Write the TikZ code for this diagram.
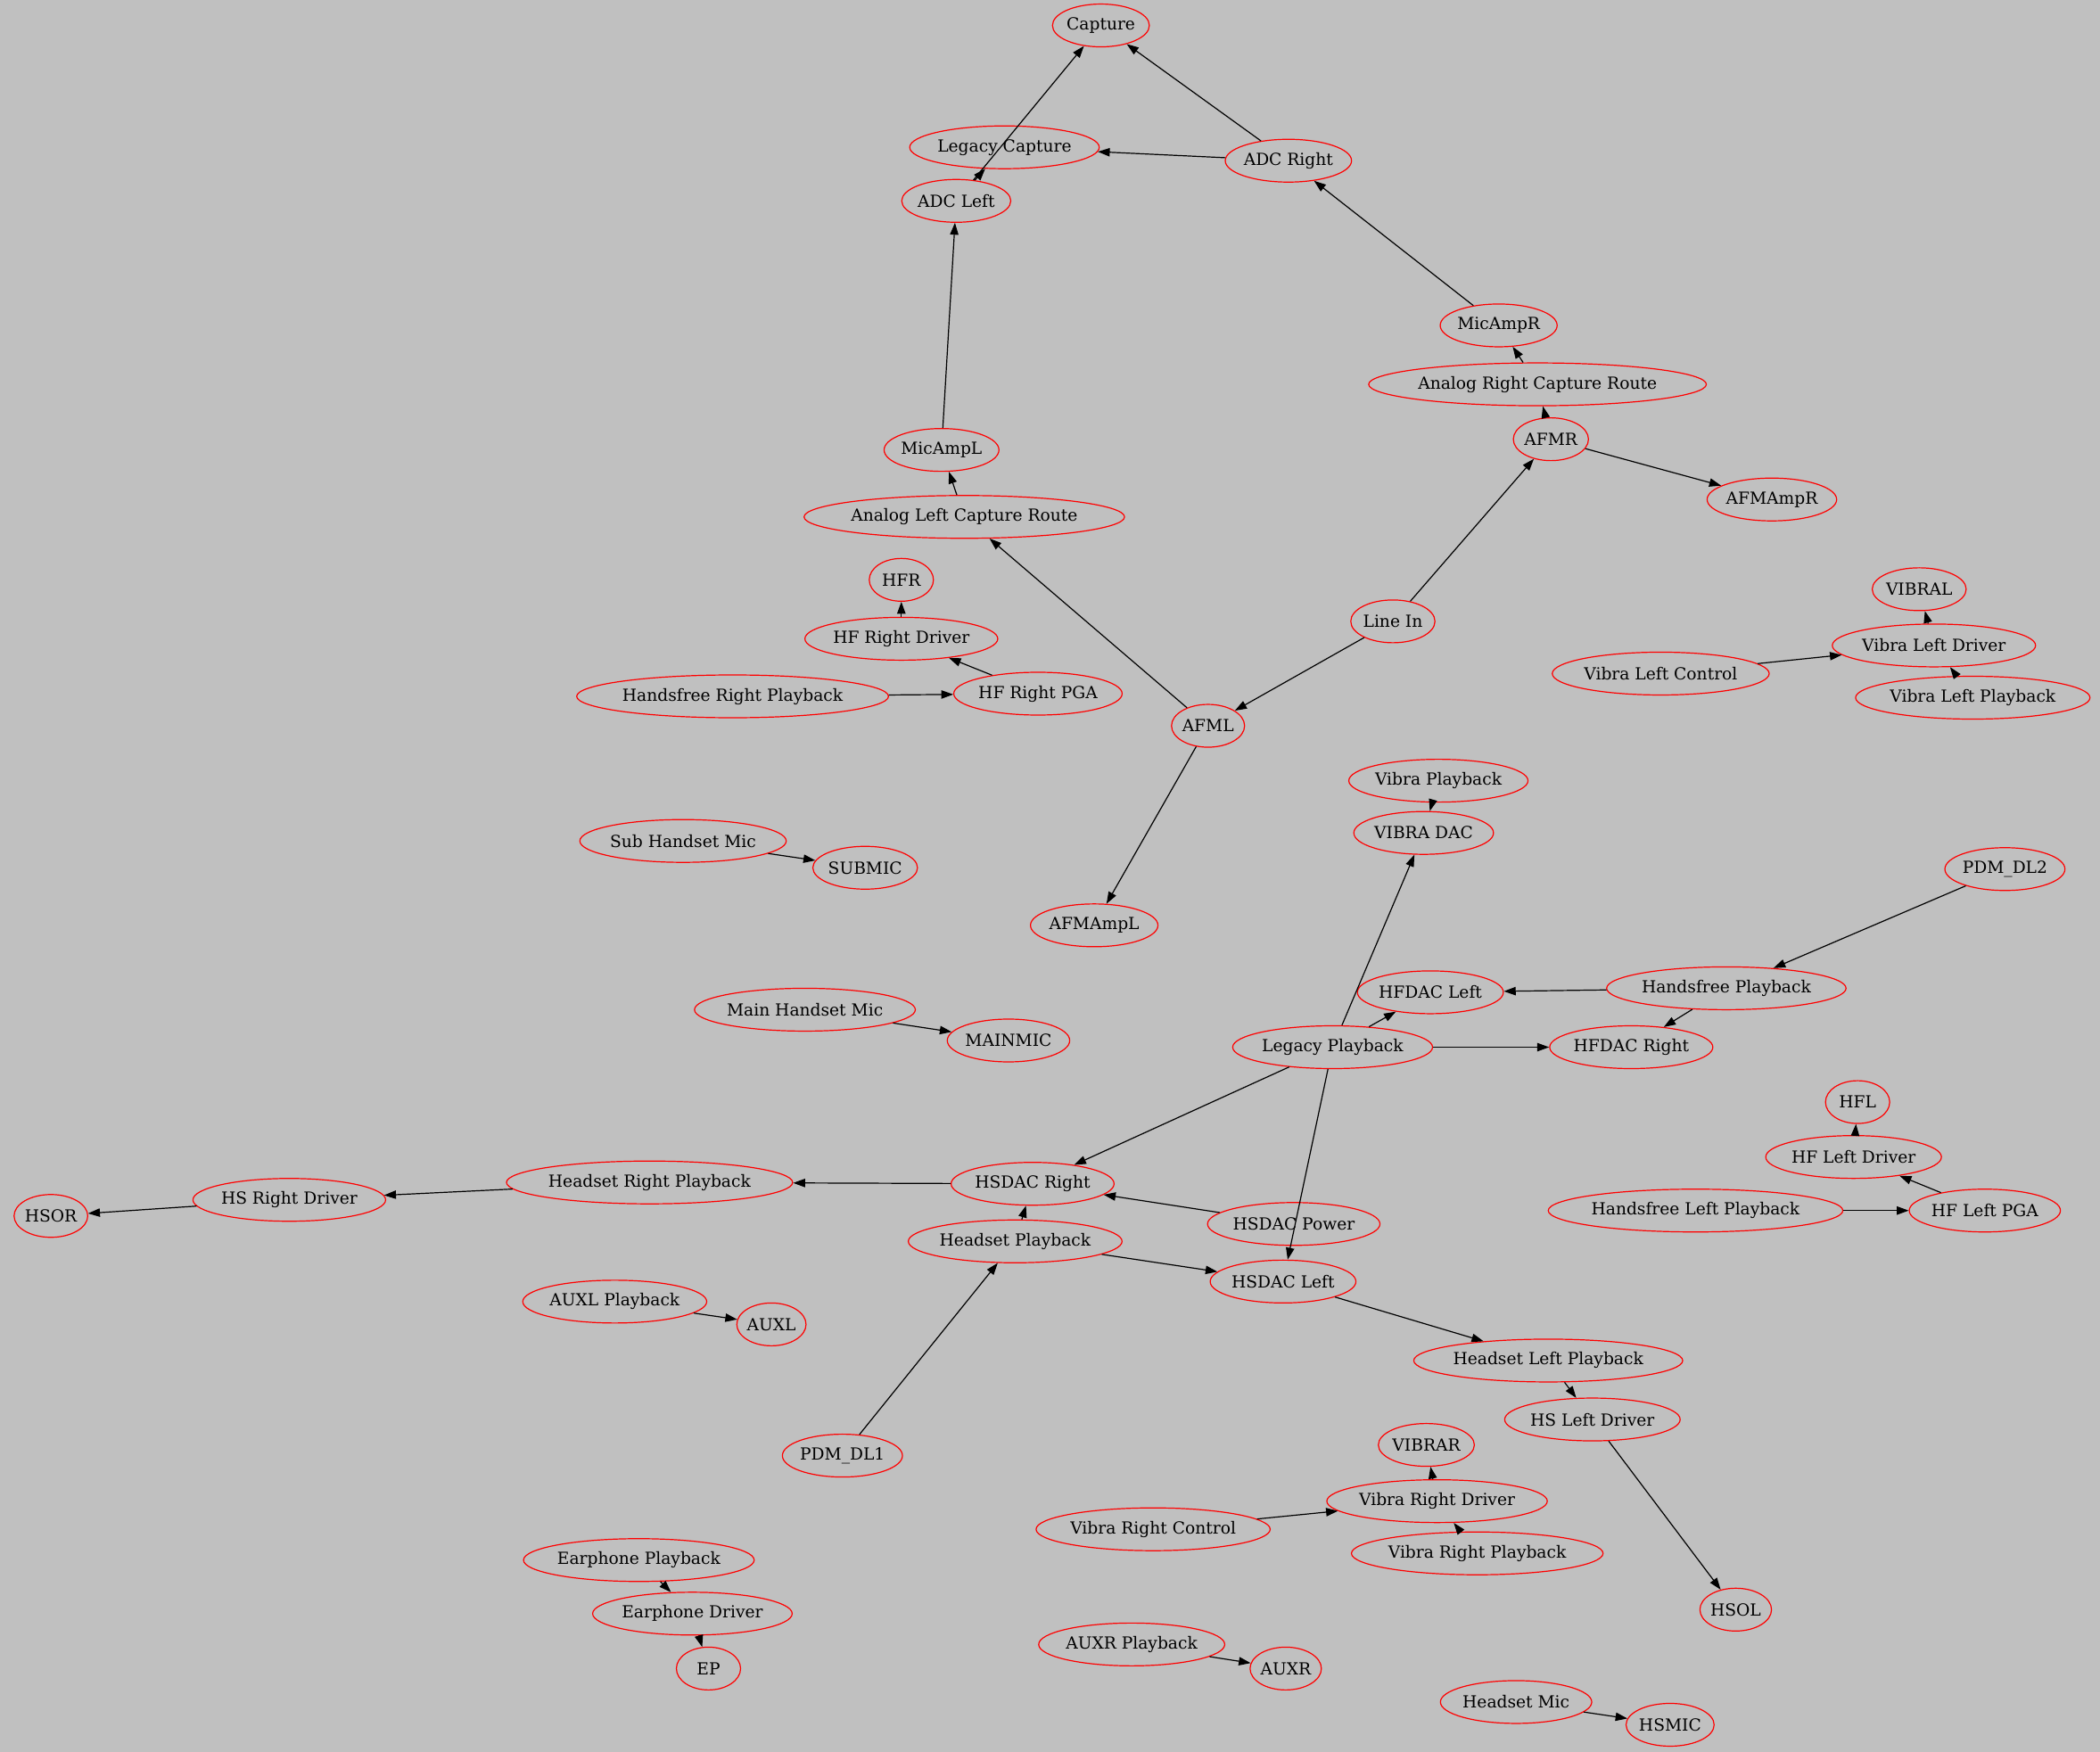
\documentclass[tikz,border=0pt]{standalone}
\usepackage{fontspec}
\setmainfont{DejaVu Serif}
\usetikzlibrary{shapes.geometric,arrows.meta}
\definecolor{bgc}{HTML}{C0C0C0}
\newcommand\gvfont{\fontsize{14}{16}\selectfont}
\newlength\gvw
\newlength\gvm
\tikzset{
  nd/.style={ellipse, draw=red, line width=0.9pt, minimum height=36pt, minimum width=54pt,
    inner xsep=0pt, inner ysep=0pt, font=\gvfont, text=black},
  ed/.style={draw=black, line width=0.9pt, -{Triangle[length=10pt,width=7pt]}}
}
\newcommand\gvn[3]{%
  \settowidth\gvw{\gvfont #3}%
  \pgfmathsetlength\gvm{max(54pt,1.315*(\gvw+16pt))}%
  \node[nd, minimum width=\gvm] (#1) at (#2) {#3};}
\begin{document}
\begin{tikzpicture}[x=1.1265pt,y=-1.1265pt]
\fill[bgc] (0,0) rectangle (1568,1308);
\useasboundingbox (0,0) rectangle (1568,1308);
% nodes
\gvn{capture}{822,19}{Capture}
\gvn{legcap}{750,110}{Legacy Capture}
\gvn{adcr}{962,120}{ADC Right}
\gvn{adcl}{714,150}{ADC Left}
\gvn{micampr}{1119,243}{MicAmpR}
\gvn{arcr}{1148,287}{Analog Right Capture Route}
\gvn{afmr}{1158,328}{AFMR}
\gvn{afmampr}{1323,373}{AFMAmpR}
\gvn{micampl}{703,336}{MicAmpL}
\gvn{alcr}{720,386}{Analog Left Capture Route}
\gvn{hfr}{673,433}{HFR}
\gvn{vibral}{1433,440}{VIBRAL}
\gvn{hfrdrv}{673,477}{HF Right Driver}
\gvn{linein}{1040,464}{Line In}
\gvn{vldrv}{1444,482}{Vibra Left Driver}
\gvn{vlctl}{1240,503}{Vibra Left Control}
\gvn{hfrpb}{547,520}{Handsfree Right Playback}
\gvn{hfrpga}{775,518}{HF Right PGA}
\gvn{vlpb}{1473,521}{Vibra Left Playback}
\gvn{afml}{902,542}{AFML}
\gvn{vibpb}{1074,583}{Vibra Playback}
\gvn{vibdac}{1063,622}{VIBRA DAC}
\gvn{subhs}{510,628}{Sub Handset Mic}
\gvn{submic}{646,648}{SUBMIC}
\gvn{pdm2}{1497,649}{PDM\_DL2}
\gvn{afmampl}{817,691}{AFMAmpL}
\gvn{hfdacl}{1068,741}{HFDAC Left}
\gvn{hfpb}{1289,738}{Handsfree Playback}
\gvn{mainhs}{601,754}{Main Handset Mic}
\gvn{mainmic}{753,777}{MAINMIC}
\gvn{legpb}{995,782}{Legacy Playback}
\gvn{hfdacr}{1218,782}{HFDAC Right}
\gvn{hfl}{1387,823}{HFL}
\gvn{hfldrv}{1384,864}{HF Left Driver}
\gvn{hsrpb}{485,883}{Headset Right Playback}
\gvn{hsdacr}{771,884}{HSDAC Right}
\gvn{hsrdrv}{216,896}{HS Right Driver}
\gvn{hsor}{38,908}{HSOR}
\gvn{hflpb}{1266,904}{Handsfree Left Playback}
\gvn{hflpga}{1482,904}{HF Left PGA}
\gvn{hsdacpw}{966,914}{HSDAC Power}
\gvn{hspb}{758,927}{Headset Playback}
\gvn{hsdacl}{958,957}{HSDAC Left}
\gvn{auxlpb}{459,972}{AUXL Playback}
\gvn{auxl}{576,989}{AUXL}
\gvn{hslpb}{1156,1016}{Headset Left Playback}
\gvn{hsldrv}{1189,1060}{HS Left Driver}
\gvn{pdm1}{629,1087}{PDM\_DL1}
\gvn{vibrar}{1065,1079}{VIBRAR}
\gvn{vrdrv}{1073,1121}{Vibra Right Driver}
\gvn{vrctl}{861,1142}{Vibra Right Control}
\gvn{vrpb}{1103,1160}{Vibra Right Playback}
\gvn{eppb}{477,1165}{Earphone Playback}
\gvn{hsol}{1296,1202}{HSOL}
\gvn{epdrv}{517,1205}{Earphone Driver}
\gvn{auxrpb}{845,1228}{AUXR Playback}
\gvn{ep}{529,1246}{EP}
\gvn{auxr}{960,1246}{AUXR}
\gvn{hsmicin}{1132,1271}{Headset Mic}
\gvn{hsmic}{1247,1288}{HSMIC}
% edges
\draw[ed] (adcl) -- (capture);
\draw[ed] (adcr) -- (capture);
\draw[ed] (adcl) -- (legcap);
\draw[ed] (adcr) -- (legcap);
\draw[ed] (micampl) -- (adcl);
\draw[ed] (micampr) -- (adcr);
\draw[ed] (arcr) -- (micampr);
\draw[ed] (afmr) -- (arcr);
\draw[ed] (afmr) -- (afmampr);
\draw[ed] (linein) -- (afmr);
\draw[ed] (linein) -- (afml);
\draw[ed] (alcr) -- (micampl);
\draw[ed] (afml) -- (alcr);
\draw[ed] (afml) -- (afmampl);
\draw[ed] (hfrdrv) -- (hfr);
\draw[ed] (hfrpga) -- (hfrdrv);
\draw[ed] (hfrpb) -- (hfrpga);
\draw[ed] (vldrv) -- (vibral);
\draw[ed] (vlctl) -- (vldrv);
\draw[ed] (vlpb) -- (vldrv);
\draw[ed] (vibpb) -- (vibdac);
\draw[ed] (legpb) -- (vibdac);
\draw[ed] (subhs) -- (submic);
\draw[ed] (pdm2) -- (hfpb);
\draw[ed] (hfpb) -- (hfdacl);
\draw[ed] (hfpb) -- (hfdacr);
\draw[ed] (legpb) -- (hfdacl);
\draw[ed] (legpb) -- (hfdacr);
\draw[ed] (mainhs) -- (mainmic);
\draw[ed] (legpb) -- (hsdacr);
\draw[ed] (legpb) -- (hsdacl);
\draw[ed] (hflpga) -- (hfldrv);
\draw[ed] (hfldrv) -- (hfl);
\draw[ed] (hflpb) -- (hflpga);
\draw[ed] (hsdacr) -- (hsrpb);
\draw[ed] (hsrpb) -- (hsrdrv);
\draw[ed] (hsrdrv) -- (hsor);
\draw[ed] (hsdacpw) -- (hsdacr);
\draw[ed] (hspb) -- (hsdacr);
\draw[ed] (hspb) -- (hsdacl);
\draw[ed] (pdm1) -- (hspb);
\draw[ed] (hsdacl) -- (hslpb);
\draw[ed] (hslpb) -- (hsldrv);
\draw[ed] (hsldrv) -- (hsol);
\draw[ed] (auxlpb) -- (auxl);
\draw[ed] (vrdrv) -- (vibrar);
\draw[ed] (vrctl) -- (vrdrv);
\draw[ed] (vrpb) -- (vrdrv);
\draw[ed] (eppb) -- (epdrv);
\draw[ed] (epdrv) -- (ep);
\draw[ed] (auxrpb) -- (auxr);
\draw[ed] (hsmicin) -- (hsmic);
\end{tikzpicture}
\end{document}
